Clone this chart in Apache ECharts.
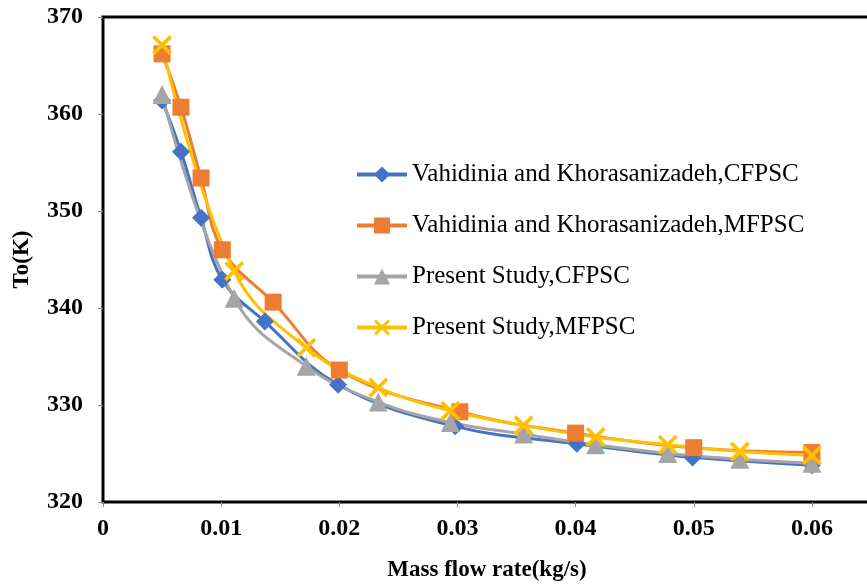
<!DOCTYPE html>
<html>
<head>
<meta charset="utf-8">
<script src="https://cdn.jsdelivr.net/npm/echarts@6/dist/echarts.min.js"></script>
<style>
  html, body { margin: 0; padding: 0; background: #fff; }
  #myChart { width: 867px; height: 586px; }
</style>
</head>
<body>
<div id="myChart"></div>
<script>
// data
var vkCfX = [0.005, 0.0066, 0.0083, 0.0101, 0.0137, 0.0199, 0.0298, 0.0401, 0.0499, 0.06];
var vkCfY = [361.4, 356.1, 349.3, 342.9, 338.6, 332.1, 327.8, 326.0, 324.6, 323.8];

var vkMfX = [0.005, 0.0066, 0.0083, 0.0101, 0.0144, 0.02, 0.0302, 0.04, 0.05, 0.06];
var vkMfY = [366.2, 360.7, 353.4, 346.0, 340.6, 333.6, 329.3, 327.1, 325.6, 325.1];

var psX = [0.005, 0.0111, 0.0172, 0.0233, 0.0294, 0.0356, 0.0417, 0.0478, 0.0539, 0.06];
var psCfY = [362.0, 341.0, 334.0, 330.3, 328.2, 327.0, 325.9, 325.0, 324.4, 324.0];
var psMfY = [367.1, 343.8, 335.9, 331.8, 329.4, 327.9, 326.7, 325.9, 325.2, 324.8];

var seriesNames = [
  'Vahidinia and Khorasanizadeh,CFPSC',
  'Vahidinia and Khorasanizadeh,MFPSC',
  'Present Study,CFPSC',
  'Present Study,MFPSC'
];
var xTicks = [0, 0.01, 0.02, 0.03, 0.04, 0.05, 0.06];

function pairs(xs, ys) {
  return xs.map(function (x, i) { return [x, ys[i]]; });
}

var crossPath = 'path://M0,1.3 L1.3,0 L5,3.7 L8.7,0 L10,1.3 L6.3,5 L10,8.7 L8.7,10 L5,6.3 L1.3,10 L0,8.7 L3.7,5 Z';
var serif = '"Liberation Serif", "Times New Roman", serif';

var myChart = echarts.init(document.getElementById('myChart'));
var option = {
  animation: false,
  textStyle: { fontFamily: serif },
  grid: {
    left: 103, top: 17, right: -4, bottom: 84,
    outerBoundsMode: 'none',
    containLabel: false,
    show: true, borderColor: '#000', borderWidth: 3
  },
  legend: {
    orient: 'vertical',
    left: 350, top: 157,
    itemWidth: 50, itemHeight: 20, itemGap: 26,
    lineStyle: { width: 4 },
    textStyle: { fontFamily: serif, fontSize: 25, color: '#000' },
    data: seriesNames
  },
  xAxis: {
    type: 'value',
    min: 0, max: 0.065, interval: 0.01,
    name: 'Mass flow rate(kg/s)',
    nameLocation: 'middle', nameGap: 57,
    nameTextStyle: { fontFamily: serif, fontSize: 23, fontWeight: 'bold', color: '#000' },
    axisLine: { show: false },
    axisTick: { show: true, length: 5, lineStyle: { color: '#888' } },
    splitLine: { show: false },
    axisLabel: {
      fontFamily: serif, fontSize: 24, fontWeight: 'bold', color: '#000', margin: 15,
      formatter: function (v) {
        for (var i = 0; i < xTicks.length; i++) {
          if (Math.abs(xTicks[i] - v) < 1e-9) return String(xTicks[i]);
        }
        return '';
      }
    }
  },
  yAxis: {
    type: 'value',
    min: 320, max: 370, interval: 10,
    name: 'To(K)',
    nameLocation: 'middle', nameGap: 69, nameRotate: 90,
    nameTextStyle: { fontFamily: serif, fontSize: 23, fontWeight: 'bold', color: '#000' },
    axisLine: { show: false },
    axisTick: { show: true, length: 5, lineStyle: { color: '#888' } },
    splitLine: { show: false },
    axisLabel: { fontFamily: serif, fontSize: 24, fontWeight: 'bold', color: '#000', margin: 20 }
  },
  series: [
    {
      name: seriesNames[0], type: 'line', smooth: 0.4,
      data: pairs(vkCfX, vkCfY),
      symbol: 'diamond', symbolSize: 18,
      lineStyle: { color: '#4472C4', width: 3 },
      itemStyle: { color: '#4472C4' }
    },
    {
      name: seriesNames[1], type: 'line', smooth: 0.4,
      data: pairs(vkMfX, vkMfY),
      symbol: 'rect', symbolSize: 17,
      lineStyle: { color: '#ED7D31', width: 3 },
      itemStyle: { color: '#ED7D31' }
    },
    {
      name: seriesNames[2], type: 'line', smooth: 0.4,
      data: pairs(psX, psCfY),
      symbol: 'triangle', symbolSize: 19,
      lineStyle: { color: '#A5A5A5', width: 3 },
      itemStyle: { color: '#A5A5A5' }
    },
    {
      name: seriesNames[3], type: 'line', smooth: 0.4,
      data: pairs(psX, psMfY),
      symbol: crossPath, symbolSize: 20,
      lineStyle: { color: '#FFC000', width: 3 },
      itemStyle: { color: '#FFC000' }
    }
  ]
};
myChart.setOption(option);
window.addEventListener('resize', function () { myChart.resize(); });
</script>
</body>
</html>
